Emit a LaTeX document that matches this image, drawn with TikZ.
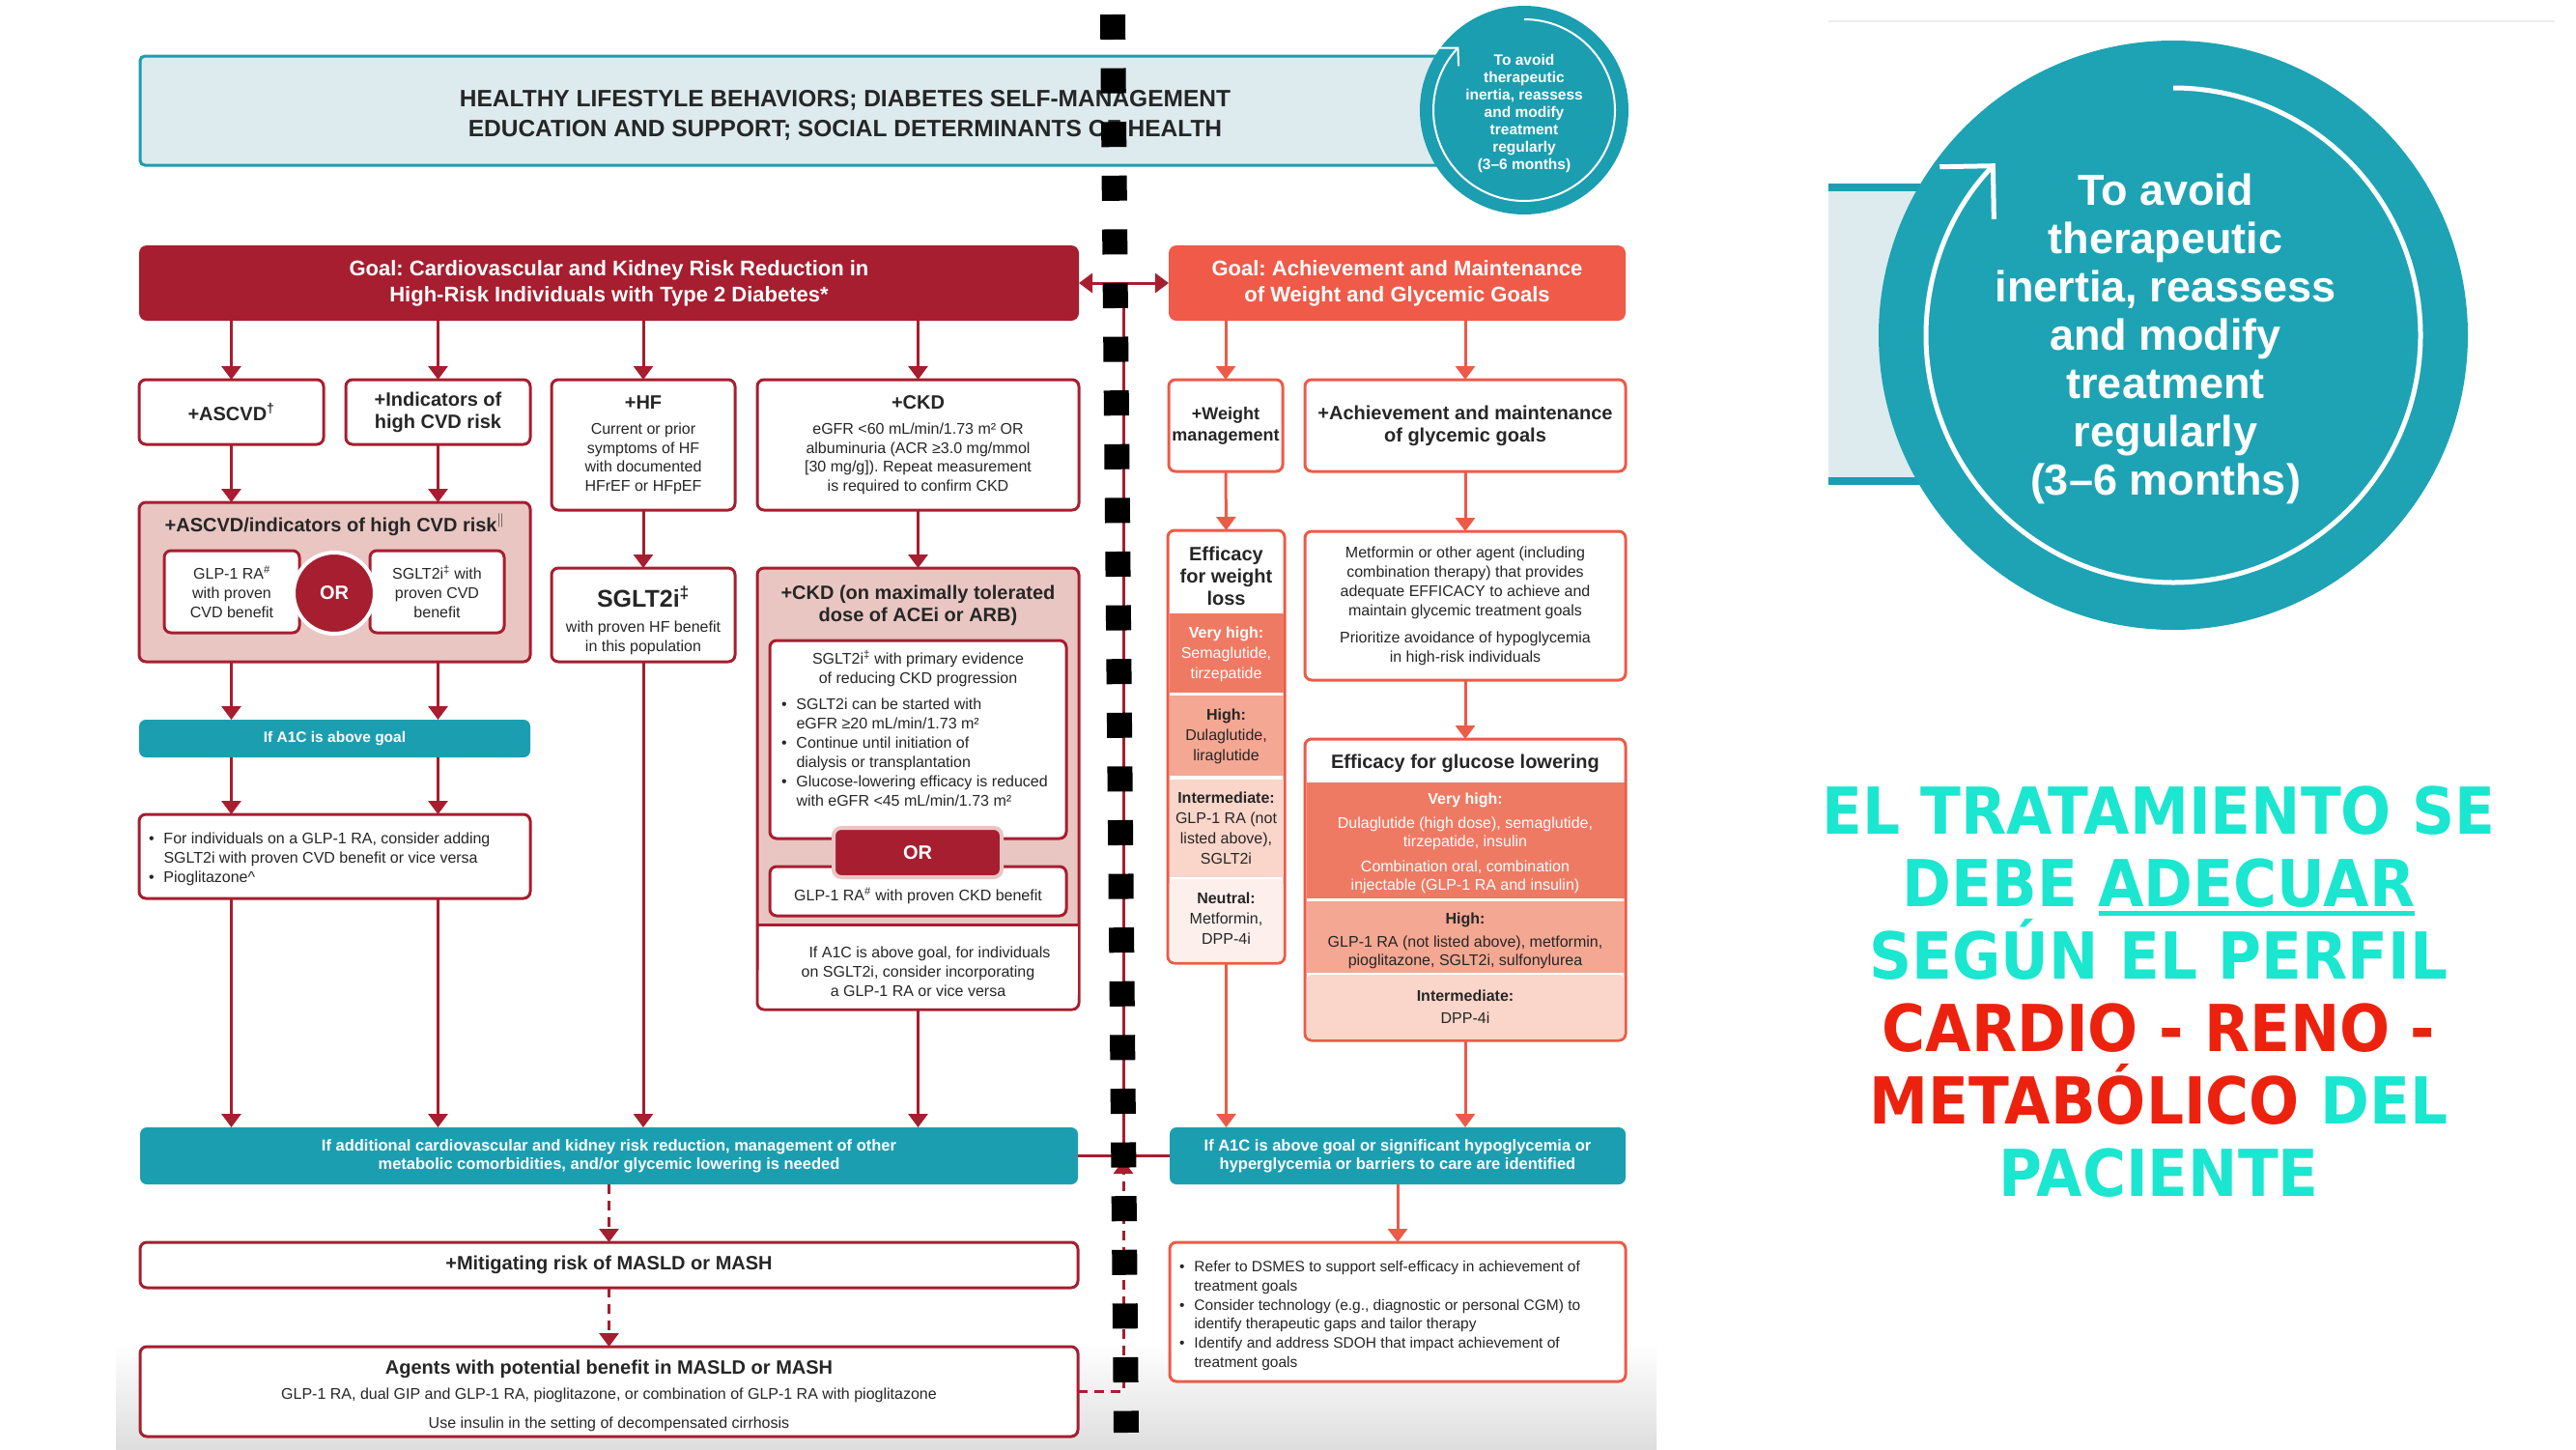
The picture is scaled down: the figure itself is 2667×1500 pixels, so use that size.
\documentclass[tikz,border=0pt]{standalone}
\usepackage{fontspec}
\setmainfont{Liberation Sans}
\newfontfamily\spf{DejaVu Sans}
\usetikzlibrary{arrows.meta}
\frenchspacing
\definecolor{cRed}{HTML}{A61E2F}
\definecolor{cCor}{HTML}{EC5B47}
\definecolor{cCorF}{HTML}{EF5A49}
\definecolor{cTeal}{HTML}{1B9EB0}
\definecolor{cTealB}{HTML}{1DA3B4}
\definecolor{cLB}{HTML}{DDEBEE}
\definecolor{cPink}{HTML}{E9C6C2}
\definecolor{cVH}{HTML}{EE7A63}
\definecolor{cHi}{HTML}{F4A792}
\definecolor{cInt}{HTML}{FAD5C9}
\definecolor{cNeu}{HTML}{FDF0EC}
\definecolor{cTxt}{HTML}{262626}
\definecolor{cTurq}{HTML}{1BE6D0}
\definecolor{cSpRed}{HTML}{EC220E}
\newcommand\fsz[2]{\fontsize{#1}{#2}\selectfont}
\newcommand\bx[7]{\node[#2, minimum width={(#5)-(#3)}, minimum height={(#6)-(#4)}] (#1) at ({((#3)+(#5))/2},{((#4)+(#6))/2}) {#7};}
\newcommand\myul[1]{\setbox0\hbox{#1}\rlap{\raisebox{-9pt}{\rule{\wd0}{5pt}}}\box0}
\newcommand\bl{\makebox[15.5pt][l]{•}}
\newcommand\ind{\hspace*{15.5pt}}
\tikzset{
  base/.style={inner sep=0pt, outer sep=0pt, align=center, text=cTxt},
  rbox/.style={base, draw=cRed, line width=3pt, fill=white, rounded corners=7pt},
  pbox/.style={rbox, fill=cPink},
  cbox/.style={base, draw=cCor, line width=3pt, fill=white, rounded corners=7pt},
  tbox/.style={base, fill=cTeal, rounded corners=7pt, text=white, font=\bfseries\fsz{16.5}{19}},
  txt/.style={inner sep=0pt, outer sep=0pt, align=center, text=cTxt, font=\fsz{16}{20}},
  ttl/.style={txt, font=\bfseries\fsz{20}{23}},
  arR/.style={draw=cRed, line width=3pt, -{Triangle[length=14pt,width=20pt]}},
  arC/.style={draw=cCor, line width=3pt, -{Triangle[length=14pt,width=20pt]}},
  arD/.style={arR, dash pattern=on 10pt off 7pt},
  lnR/.style={draw=cRed, line width=3pt},
}
\begin{document}
\begin{tikzpicture}[x=1pt,y=-1pt]
\useasboundingbox (0,0) rectangle (2667,1500);
\fill[white] (0,0) rectangle (2667,1500);
\shade[top color=white, bottom color=black!13] (120,1390) rectangle (1715,1500);

% header
\bx{hdr}{base, fill=cLB, draw=cTeal, line width=3pt, rounded corners=5pt}{145}{58}{1505}{171}{}
\node[txt, font=\bfseries\fsz{24.5}{31}] (hdrt) at (875,119) {HEALTHY LIFESTYLE BEHAVIORS; DIABETES SELF-MANAGEMENT\\EDUCATION AND SUPPORT; SOCIAL DETERMINANTS OF HEALTH};
\node[circle, fill=cTeal, minimum size=216, inner sep=0pt] (sc) at (1578,114) {};
\node[txt, text=white, font=\bfseries\fsz{15.5}{18}] (sct) at (1578,117) {To avoid\\therapeutic\\inertia, reassess\\and modify\\treatment\\regularly\\(3–6 months)};
\begin{scope}[shift={(sc.center)}, yscale=-1]
\draw[white, line width=2pt, -{Straight Barb[length=13pt,width=27pt]}] (90:94) arc[start angle=90, end angle=-224, radius=94];
\end{scope}

% big circle
\draw[black!7, line width=2pt] (1893,22) -- (2645,22);
\fill[cLB] (1893,190) rectangle (2060,502);
\draw[cTeal, line width=8pt] (1893,194) -- (2060,194) (1893,498) -- (2060,498);
\node[circle, fill=cTealB, minimum size=610, inner sep=0pt] (bc) at (2250,347) {};
\node[txt, text=white, font=\bfseries\fsz{45}{50}] (bct) at (2242,351) {To avoid\\therapeutic\\inertia, reassess\\and modify\\treatment\\regularly\\(3–6 months)};
\begin{scope}[shift={(bc.center)}, yscale=-1]
\draw[white, line width=5pt, -{Straight Barb[length=39pt,width=78pt]}] (90:256) arc[start angle=90, end angle=-224, radius=256];
\end{scope}

% Spanish text
\node[inner sep=0pt, font=\spf\bfseries\fsz{67}{75}] (sp) at (2235,1027) {\scalebox{0.915}[1]{\vbox{\hsize=820pt\parindent=0pt\leftskip=0pt plus 1fil\rightskip=0pt plus 1fil\parfillskip=0pt\baselineskip=75pt\lineskiplimit=-200pt\lineskip=0pt
\leavevmode\color{cTurq}EL TRATAMIENTO SE\par
\leavevmode\color{cTurq}DEBE \myul{ADECUAR}\par
\leavevmode\color{cTurq}SEGÚN EL PERFIL\par
\leavevmode\color{cSpRed}CARDIO - RENO -\par
\leavevmode\color{cSpRed}METABÓLICO \color{cTurq}DEL\par
\leavevmode\color{cTurq}PACIENTE\par}}};

% goals
\bx{gL}{base, fill=cRed, rounded corners=8pt, text=white, font=\bfseries\fsz{22}{27}}{144}{254}{1117}{332}{Goal: Cardiovascular and Kidney Risk Reduction in\\High-Risk Individuals with Type 2 Diabetes*}
\bx{gR}{base, fill=cCorF, rounded corners=8pt, text=white, font=\bfseries\fsz{22}{27}}{1210}{254}{1683}{332}{Goal: Achievement and Maintenance\\of Weight and Glycemic Goals}

% left top row
\bx{asc}{rbox, font=\bfseries\fsz{20}{23}}{144}{393}{335}{460}{+ASCVD\textsuperscript{†}}
\bx{ind}{rbox, font=\bfseries\fsz{20}{23}}{358}{393}{549}{460}{+Indicators of\\high CVD risk}
\bx{hf}{rbox, font=\fsz{16}{19.5}}{571}{393}{761}{528}{{\bfseries\fsz{20}{23}+HF}\\[7pt]Current or prior\\symptoms of HF\\with documented\\HFrEF or HFpEF}
\bx{ckd}{rbox, font=\fsz{16}{19.5}}{784}{393}{1117}{528}{{\bfseries\fsz{20}{23}+CKD}\\[7pt]eGFR <60 mL/min/1.73 m² OR\\albuminuria (ACR ≥3.0 mg/mmol\\{[}30 mg/g]). Repeat measurement\\is required to confirm CKD}

% ASCVD pink box
\bx{pk}{pbox}{144}{520}{549}{685}{}
\node[ttl] (pkt) at (346.5,543) {+ASCVD/indicators of high CVD risk$^{\|}$};
\bx{glp}{rbox, font=\fsz{16}{20}}{170}{570}{310}{655}{GLP-1 RA\textsuperscript{\#}\\with proven\\CVD benefit}
\bx{sgl}{rbox, font=\fsz{16}{20}}{383}{570}{522}{655}{SGLT2i\textsuperscript{‡} with\\proven CVD\\benefit}
\node[circle, fill=cRed, draw=white, line width=4pt, minimum size=84, inner sep=0pt, text=white, font=\bfseries\fsz{20}{24}] (or1) at (346,614) {OR};

% HF SGLT2i
\bx{sh}{rbox}{571}{588}{761}{685}{}
\node[txt] (sht) at (666,642) {{\bfseries\fsz{25}{29}SGLT2i\textsuperscript{‡}}\\[6pt]with proven HF benefit\\in this population};

% CKD maximally tolerated
\bx{ckm}{pbox}{784}{588}{1117}{1045}{}
\fill[white] (785.5,957) rectangle (1115.5,1030);
\fill[white, rounded corners=6pt] (785.5,1000) rectangle (1115.5,1043.5);
\draw[lnR] (784,957) -- (1117,957);
\node[ttl] (ckmt) at (950.5,627) {+CKD (on maximally tolerated\\dose of ACEi or ARB)};
\bx{k1}{rbox}{797}{663}{1104}{868}{}
\node[txt] (k1a) at (950.5,692) {SGLT2i\textsuperscript{‡} with primary evidence\\of reducing CKD progression};
\node[txt, align=left, anchor=west] (k1b) at (809,779) {\bl SGLT2i can be started with\\\ind eGFR ≥20 mL/min/1.73 m²\\\bl Continue until initiation of\\\ind dialysis or transplantation\\\bl Glucose-lowering efficacy is reduced\\\ind with eGFR <45 mL/min/1.73 m²};
\bx{k2}{rbox}{797}{897}{1104}{948}{}
\node[txt] (k2t) at (950.5,927) {GLP-1 RA\textsuperscript{\#} with proven CKD benefit};
\node[base, fill=cRed, draw=cPink, line width=4pt, rounded corners=8pt, minimum width=174, minimum height=51, text=white, font=\bfseries\fsz{20}{24}] (orr) at (950,882.5) {OR};
\node[txt] (k3) at (950.5,1006) {\hspace*{24pt}If A1C is above goal, for individuals\\on SGLT2i, consider incorporating\\a GLP-1 RA or vice versa};

% left lower
\bx{a1c}{tbox, font=\bfseries\fsz{15.5}{19}}{144}{745}{549}{784}{If A1C is above goal}
\bx{blt}{rbox}{144}{843}{549}{930}{}
\node[txt, align=left, anchor=west] (bltt) at (154,889) {\bl For individuals on a GLP-1 RA, consider adding\\\ind SGLT2i with proven CVD benefit or vice versa\\\bl Pioglitazone\textasciicircum};

% bottom
\bx{tL}{tbox}{145}{1167}{1116}{1226}{If additional cardiovascular and kidney risk reduction, management of other\\metabolic comorbidities, and/or glycemic lowering is needed}
\bx{tR}{tbox}{1211}{1167}{1683}{1226}{If A1C is above goal or significant hypoglycemia or\\hyperglycemia or barriers to care are identified}
\bx{ms}{rbox, font=\bfseries\fsz{20}{24}}{145}{1286}{1116}{1333}{+Mitigating risk of MASLD or MASH}
\bx{ag}{rbox}{145}{1394}{1116}{1487}{}
\node[txt] (agt) at (630.5,1445) {{\bfseries\fsz{20}{24}Agents with potential benefit in MASLD or MASH}\\[6pt]GLP-1 RA, dual GIP and GLP-1 RA, pioglitazone, or combination of GLP-1 RA with pioglitazone\\[10pt]Use insulin in the setting of decompensated cirrhosis};

% right column
\bx{wm}{cbox, font=\bfseries\fsz{18}{22}}{1210}{393}{1328}{488}{+Weight\\management}
\bx{ach}{cbox, font=\bfseries\fsz{20}{23}}{1351}{393}{1683}{488}{+Achievement and maintenance\\of glycemic goals}
\bx{ew}{cbox}{1209}{549}{1330}{997}{}
\fill[cVH] (1210.5,635) rectangle (1328.5,717);
\fill[cHi] (1210.5,720) rectangle (1328.5,803);
\fill[cInt] (1210.5,807) rectangle (1328.5,908);
\fill[cNeu, rounded corners=5pt] (1210.5,910) rectangle (1328.5,995.5);
\node[txt, font=\bfseries\fsz{20}{23}] (ewt) at (1269.5,596) {Efficacy\\for weight\\loss};
\node[txt, text=white, font=\fsz{16}{21}] (ew1) at (1269.5,677) {\textbf{Very high:}\\Semaglutide,\\tirzepatide};
\node[txt, font=\fsz{16}{21}] (ew2) at (1269.5,762) {\textbf{High:}\\Dulaglutide,\\liraglutide};
\node[txt, font=\fsz{16}{21}] (ew3) at (1269.5,857) {\textbf{Intermediate:}\\GLP-1 RA (not\\listed above),\\SGLT2i};
\node[txt, font=\fsz{16}{21}] (ew4) at (1269.5,951) {\textbf{Neutral:}\\Metformin,\\DPP-4i};

\bx{met}{cbox, font=\fsz{16}{20}}{1351}{550}{1683}{704}{Metformin or other agent (including\\combination therapy) that provides\\adequate EFFICACY to achieve and\\maintain glycemic treatment goals\\[8pt]Prioritize avoidance of hypoglycemia\\in high-risk individuals}
\bx{gl}{cbox}{1351}{765}{1683}{1077}{}
\fill[cVH] (1352.5,810) rectangle (1681.5,930);
\fill[cHi] (1352.5,933) rectangle (1681.5,1007);
\fill[cInt, rounded corners=5pt] (1352.5,1009) rectangle (1681.5,1075.5);
\node[txt, font=\bfseries\fsz{20}{23}] (glt) at (1517,790) {Efficacy for glucose lowering};
\node[txt, text=white, font=\fsz{16}{19.5}] (gl1) at (1517,873) {\textbf{Very high:}\\[5pt]Dulaglutide (high dose), semaglutide,\\tirzepatide, insulin\\[6pt]Combination oral, combination\\injectable (GLP-1 RA and insulin)};
\node[txt, font=\fsz{16}{19.5}] (gl2) at (1517,974) {\textbf{High:}\\[4pt]GLP-1 RA (not listed above), metformin,\\pioglitazone, SGLT2i, sulfonylurea};
\node[txt, font=\fsz{16}{19.5}] (gl3) at (1517,1042) {\textbf{Intermediate:}\\[4pt]DPP-4i};

\bx{rb}{cbox}{1211}{1286}{1683}{1430}{}
\node[txt, align=left, anchor=west, font=\fsz{15.5}{19.8}] (rbt) at (1221,1362) {\bl Refer to DSMES to support self-efficacy in achievement of\\\ind treatment goals\\\bl Consider technology (e.g., diagnostic or personal CGM) to\\\ind identify therapeutic gaps and tailor therapy\\\bl Identify and address SDOH that impact achievement of\\\ind treatment goals};

% connectors left
\draw[arR] (gL.south -| asc.north) -- (asc.north);
\draw[arR] (gL.south -| ind.north) -- (ind.north);
\draw[arR] (gL.south -| hf.north) -- (hf.north);
\draw[arR] (gL.south -| ckd.north) -- (ckd.north);
\draw[arR] (asc.south) -- (asc.south |- pk.north);
\draw[arR] (ind.south) -- (ind.south |- pk.north);
\draw[arR] (hf.south) -- (sh.north);
\draw[arR] (ckd.south) -- (ckm.north);
\draw[arR] (pk.south -| asc.south) -- (a1c.north -| asc.south);
\draw[arR] (pk.south -| ind.south) -- (a1c.north -| ind.south);
\draw[arR] (a1c.south -| asc.south) -- (blt.north -| asc.south);
\draw[arR] (a1c.south -| ind.south) -- (blt.north -| ind.south);
\draw[arR] (blt.south -| asc.south) -- (tL.north -| asc.south);
\draw[arR] (blt.south -| ind.south) -- (tL.north -| ind.south);
\draw[arR] (sh.south) -- (tL.north -| sh.south);
\draw[arR] (ckm.south) -- (tL.north -| ckm.south);
\draw[arD] (tL.south) -- (ms.north);
\draw[arD] (ms.south) -- (ag.north);

% middle connectors
\coordinate (mid) at (1163,293);
\coordinate (midb) at (1163,1196.5);
\coordinate (midu) at (1163,1201);
\draw[lnR, {Triangle[length=14pt,width=20pt]}-{Triangle[length=14pt,width=20pt]}] (gL.east) -- (gR.west);
\draw[lnR] (mid) -- (midb);
\draw[lnR] (tL.east) -- (tR.west);
\draw[arD] (ag.east) -| (midu);

% connectors right
\draw[arC] (gR.south -| wm.north) -- (wm.north);
\draw[arC] (gR.south -| ach.north) -- (ach.north);
\draw[arC] (wm.south) -- (ew.north);
\draw[arC] (ach.south) -- (met.north);
\draw[arC] (met.south) -- (gl.north);
\draw[arC] (ew.south) -- (tR.north -| ew.south);
\draw[arC] (gl.south) -- (tR.north -| gl.south);
\draw[arC] (tR.south) -- (rb.north);

% black dashed line
\draw[black, line width=26pt, dash pattern=on 26pt off 29.6pt] (1152,15) -- (1166,1483);
\end{tikzpicture}
\end{document}
